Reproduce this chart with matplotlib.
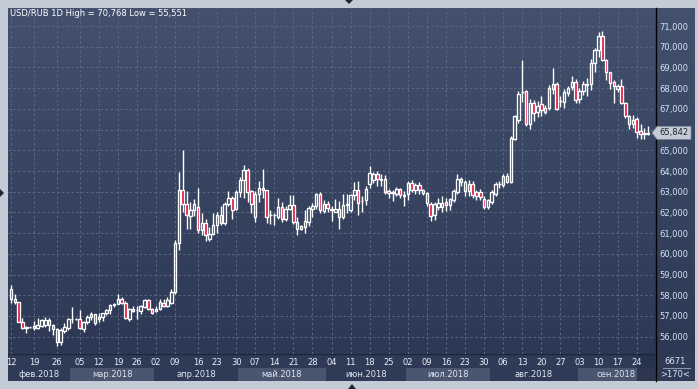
import matplotlib
matplotlib.use("Agg")
import matplotlib.pyplot as plt
import numpy as np
from matplotlib.colors import LinearSegmentedColormap
from matplotlib.lines import Line2D
from matplotlib.patches import Polygon, Rectangle

# daily USD/RUB candles, 12 Feb 2018 .. 26 Sep 2018
opens = [58.28, 57.80, 57.66, 56.72, 56.44, 56.45, 56.44, 56.44, 56.52, 56.55,
         56.83, 56.55, 56.35, 55.76, 56.28, 56.40, 56.84, 56.85, 56.84, 56.36,
         56.72, 56.93, 57.08, 56.84, 56.96, 57.14, 57.28, 57.52, 57.60, 57.80,
         57.61, 56.84, 57.25, 57.29, 57.25, 57.45, 57.77, 57.32, 57.25, 57.32,
         57.61, 57.48, 57.64, 58.14, 60.53, 63.07, 62.43, 61.85, 62.11, 62.27,
         61.14, 61.51, 60.74, 60.98, 61.38, 61.87, 61.51, 62.43, 62.72, 62.16,
         62.99, 63.58, 64.07, 63.03, 61.79, 62.91, 63.20, 63.07, 61.90, 61.88,
         61.79, 62.27, 61.70, 62.15, 62.35, 61.55, 61.22, 61.31, 61.55, 62.15,
         62.30, 62.88, 62.08, 62.43, 62.15, 62.03, 62.16, 61.79, 62.39, 62.11,
         62.83, 63.07, 62.55, 62.59, 63.36, 63.55, 63.87, 63.55, 63.63, 63.03,
         62.95, 62.91, 63.12, 62.82, 62.91, 63.40, 63.10, 63.31, 63.07, 62.94,
         62.43, 61.87, 62.27, 62.24, 62.51, 62.35, 62.59, 62.99, 63.60, 63.47,
         63.04, 63.36, 62.99, 62.99, 62.67, 62.24, 62.51, 62.91, 63.37, 63.31,
         63.75, 63.47, 65.56, 66.48, 67.80, 67.86, 66.28, 67.28, 66.85, 67.22,
         66.85, 67.05, 67.98, 68.21, 67.38, 67.33, 67.76, 68.05, 68.28, 67.46,
         67.86, 68.13, 68.18, 69.20, 69.85, 70.51, 69.37, 68.77, 68.32, 67.95,
         68.08, 67.30, 66.65, 66.25, 66.52, 65.91, 65.77, 65.80]
highs = [58.49, 58.06, 57.68, 56.89, 56.52, 56.48, 56.74, 56.90, 56.85, 56.95,
         56.88, 56.60, 56.40, 56.40, 56.66, 56.88, 57.42, 56.90, 57.29, 56.76,
         57.05, 57.18, 57.12, 57.13, 57.15, 57.35, 57.56, 57.65, 58.06, 57.90,
         57.70, 57.40, 57.50, 57.48, 57.52, 57.80, 57.82, 57.40, 57.50, 57.84,
         57.84, 57.90, 58.28, 60.66, 63.95, 65.03, 63.02, 62.48, 62.67, 63.20,
         61.96, 61.70, 61.30, 61.96, 62.00, 62.33, 62.50, 63.02, 62.80, 63.10,
         63.70, 64.28, 64.15, 63.10, 63.05, 63.50, 64.08, 63.10, 62.10, 61.95,
         62.70, 62.50, 62.30, 62.83, 62.85, 61.80, 61.40, 62.10, 62.30, 62.45,
         62.95, 63.00, 62.60, 62.55, 62.30, 62.65, 62.55, 62.90, 62.90, 62.90,
         63.48, 63.50, 62.80, 63.30, 64.23, 63.95, 64.00, 63.87, 63.80, 63.15,
         63.10, 63.25, 63.20, 63.05, 63.50, 63.55, 63.40, 63.45, 63.15, 63.00,
         62.50, 62.52, 62.70, 62.80, 62.70, 62.72, 63.15, 63.87, 63.70, 63.55,
         63.55, 63.50, 63.10, 63.15, 62.80, 62.65, 63.10, 63.45, 63.50, 63.85,
         63.90, 65.70, 66.70, 67.85, 69.34, 67.90, 67.50, 67.45, 67.40, 67.60,
         67.20, 68.15, 68.97, 68.30, 67.60, 67.95, 68.10, 68.60, 68.45, 68.00,
         68.35, 68.50, 69.40, 69.95, 70.70, 70.768, 69.40, 68.80, 68.40, 68.20,
         68.45, 67.32, 66.70, 66.70, 66.60, 66.25, 66.10, 66.15]
lows = [57.64, 57.60, 56.70, 56.35, 56.20, 56.42, 56.32, 56.35, 56.47, 56.45,
        56.26, 56.10, 55.551, 55.60, 56.20, 56.30, 56.65, 56.80, 56.37, 56.24,
        56.60, 56.80, 56.56, 56.70, 56.77, 57.05, 57.10, 57.45, 57.58, 57.60,
        56.85, 56.78, 57.18, 56.85, 57.10, 57.40, 57.28, 57.12, 57.20, 57.28,
        57.42, 57.44, 57.60, 58.08, 60.18, 62.00, 61.20, 61.20, 61.85, 61.00,
        60.90, 60.64, 60.62, 60.90, 61.00, 61.40, 61.38, 62.30, 61.70, 62.10,
        62.75, 62.70, 62.50, 61.95, 61.52, 62.50, 62.70, 61.50, 61.45, 61.40,
        61.70, 61.55, 61.60, 62.10, 61.45, 60.90, 61.15, 61.00, 61.35, 61.80,
        62.15, 61.95, 61.95, 62.00, 61.60, 62.00, 61.20, 61.70, 61.99, 62.00,
        62.60, 61.90, 62.00, 62.35, 63.20, 63.40, 63.30, 63.30, 62.90, 62.70,
        62.56, 62.80, 62.70, 62.30, 62.58, 63.00, 62.90, 62.90, 62.85, 62.30,
        61.60, 61.62, 62.10, 62.00, 62.05, 62.10, 62.50, 62.90, 63.30, 62.80,
        62.80, 62.70, 62.60, 62.62, 62.15, 62.15, 62.40, 62.80, 63.20, 63.25,
        63.40, 63.40, 65.50, 66.30, 67.33, 66.15, 66.04, 66.40, 66.60, 66.65,
        66.75, 66.95, 67.70, 66.95, 67.10, 67.05, 67.60, 67.90, 67.30, 67.30,
        67.65, 67.60, 67.90, 68.80, 69.50, 69.30, 68.40, 67.95, 67.30, 67.80,
        67.25, 66.55, 66.05, 66.10, 65.60, 65.55, 65.56, 65.75]
closes = [57.80, 57.66, 56.72, 56.40, 56.46, 56.46, 56.53, 56.58, 56.80, 56.83,
          56.55, 56.35, 55.76, 56.34, 56.46, 56.84, 56.86, 56.84, 56.41, 56.72,
          56.93, 57.10, 56.68, 56.96, 57.14, 57.28, 57.52, 57.60, 57.80, 57.61,
          56.89, 57.32, 57.32, 57.30, 57.48, 57.77, 57.32, 57.16, 57.32, 57.69,
          57.48, 57.77, 58.14, 60.53, 63.07, 62.43, 61.90, 62.11, 62.43, 61.14,
          61.51, 60.90, 60.98, 61.38, 61.87, 61.51, 62.43, 62.72, 62.14, 62.99,
          63.58, 64.07, 63.00, 62.43, 62.91, 63.20, 63.07, 61.79, 61.88, 61.90,
          62.27, 61.67, 62.15, 62.35, 61.55, 61.22, 61.33, 61.57, 62.19, 62.30,
          62.88, 62.11, 62.43, 62.19, 62.14, 62.16, 61.79, 62.38, 62.38, 62.83,
          63.07, 62.47, 62.56, 63.15, 63.88, 63.87, 63.59, 63.63, 62.99, 62.94,
          62.96, 63.15, 62.83, 62.81, 63.43, 63.10, 63.31, 63.07, 62.94, 62.46,
          61.82, 62.43, 62.46, 62.46, 62.35, 62.64, 63.04, 63.60, 63.47, 63.04,
          63.36, 62.83, 62.78, 62.75, 62.24, 62.59, 62.99, 63.36, 63.39, 63.75,
          63.47, 65.61, 66.64, 67.70, 67.83, 66.28, 67.28, 66.80, 67.12, 66.93,
          67.05, 68.02, 68.21, 67.00, 67.37, 67.81, 68.02, 68.28, 67.44, 67.86,
          68.18, 68.18, 69.20, 69.85, 70.51, 69.37, 68.77, 68.26, 68.10, 68.08,
          67.30, 66.65, 66.25, 66.44, 65.88, 65.80, 65.85, 65.842]

tick_pos = [0, 6, 12, 18, 23, 28, 33, 38, 43, 49, 54, 59, 64, 69, 74, 79, 84,
            89, 94, 99, 104, 109, 114, 119, 124, 129, 134, 139, 144, 149, 154,
            159, 164]
tick_lab = ['12', '19', '26', '05', '12', '19', '26', '02', '09', '16', '23',
            '30', '07', '14', '21', '28', '04', '11', '18', '25', '02', '09',
            '16', '23', '30', '06', '13', '20', '27', '03', '10', '17', '24']
months = ['фев.2018', 'мар.2018', 'апр.2018', 'май.2018', 'июн.2018',
          'июл.2018', 'авг.2018', 'сен.2018']
month_first = [0, 16, 38, 60, 83, 104, 126, 149]
price_levels = np.arange(56, 72)

W, H = 698, 389
def fx(px):
    return px / W
def fy(py):
    return 1 - py / H

XMIN, XMAX = -0.8, 168.8
YMIN, YMAX = 55.165, 71.87
red = '#e2123c'
txt = '#d4e3f6'

fig = plt.figure(figsize=(6.98, 3.89), dpi=100, facecolor='#c3cbd7')

# gradient background behind chart + price scale
bg = fig.add_axes([fx(8), fy(354), fx(695) - fx(8), fy(8) - fy(354)], zorder=0)
cmap = LinearSegmentedColormap.from_list('bg', ['#2c3854', '#43516e'])
bg.imshow(np.linspace(0, 1, 256).reshape(-1, 1), aspect='auto', cmap=cmap,
          origin='lower', extent=[0, 1, 0, 1])
bg.axis('off')

ax = fig.add_axes([fx(8), fy(354), fx(655) - fx(8), fy(8) - fy(354)], zorder=2)
ax.set_facecolor('none')
ax.set_xlim(XMIN, XMAX)
ax.set_ylim(YMIN, YMAX)
for s in ax.spines.values():
    s.set_visible(False)

idx = np.arange(len(closes))
o = np.array(opens); c = np.array(closes)
hi = np.array(highs); lo = np.array(lows)
top = np.maximum(o, c); bot = np.minimum(o, c)
ax.vlines(idx, top, hi, color='white', lw=1.0, zorder=3)
ax.vlines(idx, lo, bot, color='white', lw=1.0, zorder=3)
faces = [red if cc < oo else 'none' for oo, cc in zip(o, c)]
ax.bar(idx, np.maximum(top - bot, 0.015), bottom=bot, width=0.66,
       color=faces, edgecolor='white', linewidth=0.95, zorder=4)

# price scale labels (66,000 sits under the last-price marker)
ax.set_xticks(tick_pos)
ax.set_xticklabels([])
ax.set_yticks(price_levels)
ax.set_yticklabels(['' if v == 66 else f'{v:.3f}'.replace('.', ',')
                    for v in price_levels])
ax.yaxis.tick_right()
ax.tick_params(axis='y', length=0, pad=3, labelsize=6, labelcolor=txt)
ax.tick_params(axis='x', length=0)
ax.grid(True, color='#5a6883', linestyle=(0, (2.5, 2.5)), lw=0.7)
ax.set_axisbelow(True)

# date band below chart
axb = fig.add_axes([fx(8), fy(381), fx(655) - fx(8), fy(354) - fy(381)], zorder=1)
axb.set_facecolor('#2f3b56')
axb.set_xlim(XMIN, XMAX)
axb.set_ylim(0, 1)
axb.set_xticks([]); axb.set_yticks([])
for s in axb.spines.values():
    s.set_visible(False)
edges = [XMIN] + [m - 0.5 for m in month_first[1:]] + [XMAX]
for k, name in enumerate(months):
    if k % 2 == 1:
        axb.add_patch(Rectangle((edges[k], 0), edges[k + 1] - edges[k], 0.48,
                                facecolor='#4a566f', edgecolor='none'))
    axb.text((edges[k] + edges[k + 1]) / 2, 0.25, name, ha='center', va='center',
             fontsize=6, color='#dde5f0')
for p, lab in zip(tick_pos, tick_lab):
    axb.text(p, 0.68, lab, ha='center', va='center', fontsize=6, color='#e8eef8')
axb.add_patch(Rectangle((164.1, 0), XMAX - 164.1, 1, facecolor='#263049',
                        alpha=0.8, edgecolor='none'))
axb.axhline(1, color='#1c2539', lw=1)

# bottom-right corner box
axc = fig.add_axes([fx(655), fy(381), fx(695) - fx(655), fy(354) - fy(381)], zorder=1)
axc.set_facecolor('#2f3b56')
axc.set_xticks([]); axc.set_yticks([])
for s in axc.spines.values():
    s.set_visible(False)
axc.set_xlim(0, 1); axc.set_ylim(0, 1)
axc.text(0.5, 0.74, '6671', ha='center', va='center', fontsize=6, color='#dde5f0')
axc.plot([0.2, 0.88], [0.5, 0.5], color='#8a96ab', lw=0.8)
axc.text(0.5, 0.24, '>170<', ha='center', va='center', fontsize=6, color='#dde5f0')

# separator between chart and price scale
fig.add_artist(Line2D([fx(655.5)] * 2, [fy(8), fy(381)], color='black', lw=1,
                      transform=fig.transFigure, zorder=5))

# last price marker
last = closes[-1]
ly = fy(354) + (last - YMIN) / (YMAX - YMIN) * (fy(8) - fy(354))
hh = 6.5 / H
fig.add_artist(Polygon([(fx(652), ly), (fx(657), ly + hh), (fx(691), ly + hh),
                        (fx(691), ly - hh), (fx(657), ly - hh)], closed=True,
                       facecolor='#c6ccd6', edgecolor='#7d8aa0', lw=0.6,
                       transform=fig.transFigure, zorder=6))
fig.text(fx(674), ly, f'{last:.3f}'.replace('.', ','), ha='center', va='center',
         fontsize=6, color='#1b2333', zorder=7)

# title
fig.text(fx(10), fy(14), 'USD/RUB 1D High = 70,768 Low = 55,551', ha='left',
         va='center', fontsize=6, color='white', zorder=7)

# small frame arrows
for pts in ([(345, 0), (353, 0), (349, 4)], [(0, 189), (0, 197), (4, 193)],
            [(348, 389), (356, 389), (352, 384)]):
    fig.add_artist(Polygon([(fx(a), fy(b)) for a, b in pts], closed=True,
                           facecolor='#1f2636', edgecolor='none',
                           transform=fig.transFigure, zorder=6))

fig.savefig('out.png', dpi=100, facecolor=fig.get_facecolor())
